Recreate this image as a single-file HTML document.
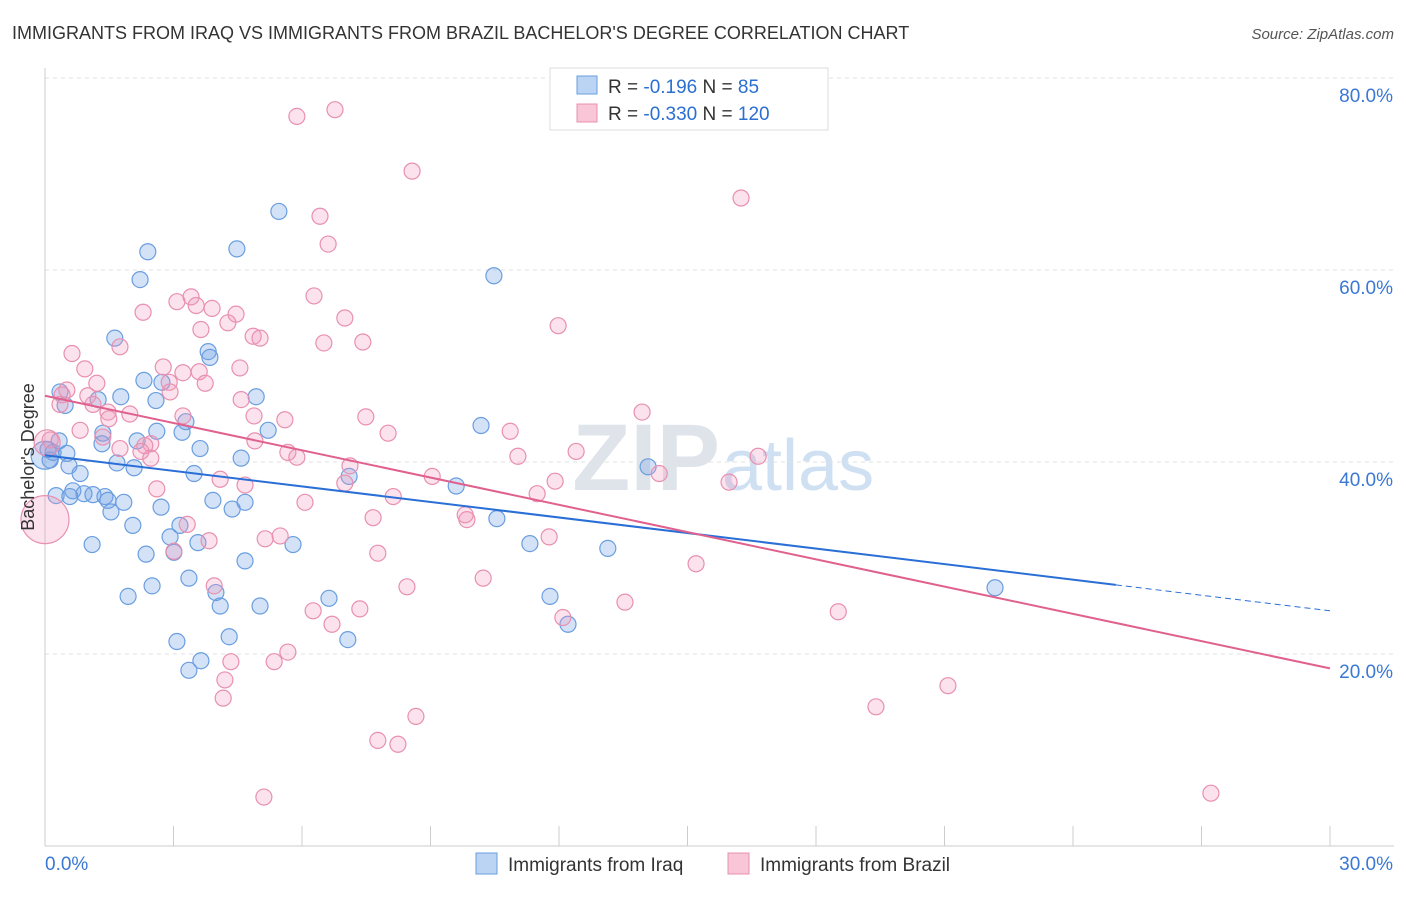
<!DOCTYPE html>
<html><head><meta charset="utf-8"><style>
body{margin:0;background:#fff;font-family:"Liberation Sans",sans-serif;}
svg text{font-family:"Liberation Sans",sans-serif;}
</style></head><body>
<svg id="c" width="1406" height="892" xmlns="http://www.w3.org/2000/svg">
<text x="12" y="39" font-size="18" fill="#333">IMMIGRANTS FROM IRAQ VS IMMIGRANTS FROM BRAZIL BACHELOR'S DEGREE CORRELATION CHART</text>
<text x="1394" y="39" font-size="15" fill="#555" font-style="italic" text-anchor="end">Source: ZipAtlas.com</text>
<text x="720" y="490" font-size="95" fill="#dfe3ea" text-anchor="end" font-family="Liberation Serif" font-weight="bold">ZIP</text>
<text x="722" y="490" font-size="72" fill="#cfe0f3">atlas</text>
<g id="grid"></g><g id="axes"></g><g id="marks"></g><g id="trends"></g>
<text transform="translate(34,457) rotate(-90)" font-size="18" fill="#333" text-anchor="middle">Bachelor's Degree</text>
<g>
<rect x="550" y="68" width="278" height="62" fill="#fff" stroke="#ddd"/>
<rect x="577" y="76" width="20" height="18" fill="#bcd4f4" stroke="#6a9ee0"/>
<rect x="577" y="104" width="20" height="18" fill="#f8c6d6" stroke="#e890b0"/>
<text x="608" y="93" font-size="19" fill="#333">R = <tspan fill="#2a6fd1">-0.196</tspan>   N = <tspan fill="#2a6fd1"> 85</tspan></text>
<text x="608" y="120" font-size="19" fill="#333">R = <tspan fill="#2a6fd1">-0.330</tspan>   N = <tspan fill="#2a6fd1">120</tspan></text>
</g>
<g>
<rect x="476" y="853" width="21" height="21" fill="#bcd4f4" stroke="#6a9ee0"/>
<text x="508" y="871" font-size="19" fill="#333">Immigrants from Iraq</text>
<rect x="728" y="853" width="21" height="21" fill="#f8c6d6" stroke="#e890b0"/>
<text x="760" y="871" font-size="19" fill="#333">Immigrants from Brazil</text>
</g>
</svg>
<script>
const iraqX=[5.46,4.48,2.40,2.22,10.48,1.63,3.81,3.85,2.31,2.73,4.93,1.77,2.59,1.24,0.35,0.47,3.29,5.21,3.20,2.61,1.35,0.33,1.33,2.15,3.62,0.51,0.19,4.58,1.68,2.08,0.56,0.82,3.48,10.18,9.60,7.10,14.08,0.65,0.26,0.58,0.91,1.12,1.40,1.47,1.84,3.92,4.67,4.37,2.71,1.54,2.05,3.15,2.92,10.55,11.32,13.14,5.79,3.57,1.10,3.01,2.36,4.67,3.36,2.50,1.94,3.99,6.63,11.79,5.02,4.09,12.21,4.30,3.08,7.07,3.64,3.36,22.18,0.07,0.12,0.0];
const iraqY=[66.1,62.2,61.9,59.0,59.4,52.9,51.5,50.9,48.5,48.3,46.8,46.8,46.4,46.5,47.3,45.9,44.2,43.3,43.1,43.2,43.0,42.2,41.9,42.2,41.4,40.9,41.0,40.4,39.9,39.4,39.6,38.8,38.8,43.8,37.5,38.5,39.5,37.0,36.5,36.4,36.7,36.6,36.4,36.0,35.8,36.0,35.8,35.1,35.3,34.8,33.4,33.4,32.2,34.1,31.5,31.0,31.4,31.6,31.4,30.6,30.4,29.7,27.9,27.1,26.0,26.4,25.8,26.0,25.0,25.0,23.1,21.8,21.3,21.5,19.3,18.3,26.9,41.3,40.2,40.7];
const brazilX=[6.77,5.88,8.57,16.25,6.42,6.61,6.28,11.98,3.41,3.08,3.53,3.90,2.29,4.46,4.27,3.64,4.86,5.02,7.00,6.51,7.42,1.75,0.63,2.76,4.55,0.93,3.22,3.60,3.74,1.21,2.90,2.92,0.51,1.00,0.40,0.35,1.12,4.58,1.47,1.98,3.22,4.88,5.60,7.49,13.94,1.49,8.01,10.86,4.90,2.47,1.35,0.82,2.33,1.75,2.24,5.67,5.88,2.47,11.04,12.40,14.34,16.65,7.12,9.04,7.00,4.09,4.67,11.91,11.49,15.97,2.61,8.13,6.07,7.66,9.85,9.81,3.32,3.83,5.14,5.49,3.01,11.77,7.77,15.20,10.23,3.95,8.45,13.54,6.26,7.35,6.70,12.09,18.52,5.67,4.34,5.35,4.20,21.08,4.16,19.40,8.66,7.77,8.24,5.11,27.22,0.12,0.0,0.05];
const brazilY=[76.7,76.0,70.3,67.5,65.6,62.7,57.3,54.2,57.2,56.7,56.3,56.0,55.6,55.4,54.5,53.8,53.1,52.9,55.0,52.4,52.5,52.0,51.3,49.9,49.8,49.7,49.3,49.4,48.2,48.2,48.3,47.3,47.5,46.9,47.0,46.0,46.0,46.5,45.2,45.0,44.8,44.8,44.4,44.7,45.2,44.5,43.0,43.2,42.2,41.9,42.6,43.3,41.7,41.4,41.1,41.0,40.5,40.4,40.6,41.1,38.8,40.6,39.6,38.5,37.8,38.2,37.6,38.0,36.7,37.9,37.2,36.4,35.8,34.2,34.0,34.5,33.5,31.8,32.0,32.3,30.7,32.2,30.5,29.4,27.9,27.1,27.0,25.4,24.5,24.7,23.1,23.8,24.4,20.2,19.2,19.2,17.3,16.7,15.4,14.5,13.5,11.0,10.6,5.1,5.5,42.3,34.0,42.0];
const yTicks=[20,40,60,80];
const yTickLabels=["20.0%","40.0%","60.0%","80.0%"];
const xTicks=[0,3,6,9,12,15,18,21,24,27,30];
const iraqTrend=[40.7,24.5];
const brazilTrend=[46.9,18.5];
const NS="http://www.w3.org/2000/svg";
const X=v=>45+v*1285/30, Y=v=>846-v*9.6;
function mk(p,t,a){const e=document.createElementNS(NS,t);for(const k in a)e.setAttribute(k,a[k]);document.getElementById(p).appendChild(e);return e;}
yTicks.forEach((t,i)=>{
 const g=mk('grid','line',{x1:45,x2:1394,y1:Y(t),y2:Y(t),stroke:'#e2e2e2','stroke-dasharray':'4,4'});
 
 
 const l=mk('axes','text',{x:1393,y:Y(t)+24,'font-size':19,fill:'#3a78d4','text-anchor':'end'});l.textContent=yTickLabels[i];
 
 
});
const topg=mk('grid','line',{x1:45,x2:1394,y1:Y(80),y2:Y(80),stroke:'#e2e2e2','stroke-dasharray':'4,4'});
mk('axes','line',{x1:45,x2:45,y1:68,y2:846,stroke:'#ccc'});
mk('axes','line',{x1:45,x2:1394,y1:846,y2:846,stroke:'#ccc'});
xTicks.forEach(t=>{const e=mk('axes','line',{x1:X(t),x2:X(t),y1:826,y2:846,stroke:'#ccc'});
 
 });
const x0=mk('axes','text',{x:45,y:870,'font-size':19,fill:'#3a78d4'});x0.textContent='0.0%';


const x1=mk('axes','text',{x:1393,y:870,'font-size':19,fill:'#3a78d4','text-anchor':'end'});x1.textContent='30.0%';


iraqX.forEach((v,i)=>{const r=i==iraqX.length-1?14:8;const c=mk('marks','circle',{cx:X(v),cy:Y(iraqY[i]),r:r,fill:'rgba(110,160,230,0.3)',stroke:'#6a9ee0','stroke-width':1.2});
 
 });
brazilX.forEach((v,i)=>{const n=brazilX.length;const r=i==n-2?24:(i==n-1?13:8);const c=mk('marks','circle',{cx:X(v),cy:Y(brazilY[i]),r:r,fill:'rgba(240,150,185,0.28)',stroke:'#e890b0','stroke-width':1.2});
 
 });
const ixEnd=25;
const iyAt=x=>iraqTrend[0]+(iraqTrend[1]-iraqTrend[0])*x/30;
const bl=mk('trends','line',{x1:X(0),y1:Y(iraqTrend[0]),x2:X(ixEnd),y2:Y(iyAt(ixEnd)),stroke:'#2a6fd6','stroke-width':2});


const bd=mk('trends','line',{x1:X(ixEnd),y1:Y(iyAt(ixEnd)),x2:X(30),y2:Y(iraqTrend[1]),stroke:'#2a6fd6','stroke-width':1,'stroke-dasharray':'6,4'});


const pl=mk('trends','line',{x1:X(0),y1:Y(brazilTrend[0]),x2:X(30),y2:Y(brazilTrend[1]),stroke:'#e0608e','stroke-width':2});


</script>
</body></html>
